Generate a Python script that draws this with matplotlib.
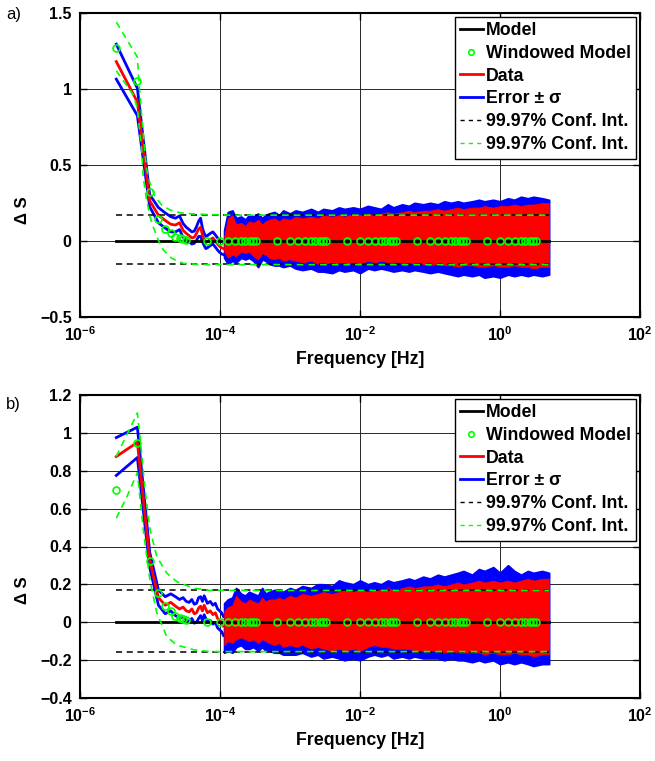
import numpy as np
import matplotlib
matplotlib.use('Agg')
import matplotlib.pyplot as plt
from matplotlib.lines import Line2D

plt.rcParams['font.family'] = ['Liberation Sans', 'DejaVu Sans']
plt.rcParams['font.weight'] = 'bold'
plt.rcParams['mathtext.fontset'] = 'custom'
plt.rcParams['mathtext.rm'] = 'Liberation Sans:bold'
plt.rcParams['mathtext.bf'] = 'Liberation Sans:bold'
plt.rcParams['mathtext.it'] = 'Liberation Sans:italic:bold'

# ---------------- data ----------------
F0 = 3.3e-6          # fundamental frequency [Hz]
F_END = 5.0          # last data frequency [Hz]

# low-frequency harmonics drawn as lines
harm = [1, 2, 3, 4, 5, 6, 7, 8, 9, 10, 11, 12, 13, 14, 15, 16, 17, 18, 19, 20,
        22, 24, 26, 28, 30, 32, 34]
data_a = [1.18, 0.915, 0.265, 0.17, 0.135, 0.11, 0.105, 0.12, 0.07, 0.05, 0.035,
          0.02, 0.025, 0.05, 0.08, 0.09, 0.04, 0.01, -0.01, -0.005, 0.01, 0.02,
          0.0, -0.02, -0.035, -0.045, -0.05]
sig_a = [0.115, 0.09, 0.04, 0.05, 0.05, 0.05, 0.045, 0.045, 0.045, 0.04, 0.04,
         0.04, 0.04, 0.045, 0.05, 0.06, 0.045, 0.04, 0.04, 0.04, 0.04, 0.04,
         0.04, 0.04, 0.04, 0.04, 0.04]
data_b = [0.875, 0.95, 0.33, 0.13, 0.09, 0.105, 0.085, 0.07, 0.08, 0.06, 0.055,
          0.07, 0.045, 0.05, 0.075, 0.085, 0.06, 0.09, 0.07, 0.05, 0.06, 0.04,
          0.05, 0.02, 0.01, 0.0, -0.02]
sig_b = [0.10, 0.08, 0.04, 0.04, 0.045, 0.045, 0.05, 0.05, 0.05, 0.05, 0.05,
         0.05, 0.05, 0.05, 0.055, 0.05, 0.05, 0.05, 0.05, 0.05, 0.05, 0.05,
         0.05, 0.05, 0.05, 0.05, 0.05]

# noise band envelopes
env_f = [1.15e-4, 1.3e-4, 1.5e-4, 1.7e-4, 2e-4, 2.3e-4, 2.6e-4, 3e-4, 3.5e-4,
         4e-4, 4.5e-4, 5e-4, 6e-4, 7e-4, 8e-4, 1e-3, 1.2e-3, 1.5e-3, 2e-3,
         2.5e-3, 3e-3, 4e-3, 5e-3, 6e-3, 8e-3, 1e-2, 1.3e-2, 1.6e-2, 2e-2,
         2.5e-2, 3e-2, 4e-2, 5e-2, 6e-2, 8e-2, 0.1, 0.13, 0.16, 0.2, 0.25, 0.3,
         0.4, 0.5, 0.6, 0.8, 1.0, 1.3, 1.6, 2.0, 2.5, 3.0, 4.0, 5.0]
red_hi_a = [0.03, 0.15, 0.17, 0.11, 0.12, 0.10, 0.13, 0.12, 0.14, 0.11, 0.13,
            0.14, 0.15, 0.13, 0.15, 0.14, 0.16, 0.15, 0.16, 0.15, 0.17, 0.16,
            0.17, 0.16, 0.18, 0.17, 0.18, 0.17, 0.18, 0.19, 0.18, 0.19, 0.20,
            0.19, 0.20, 0.20, 0.21, 0.20, 0.21, 0.22, 0.21, 0.22, 0.22, 0.23,
            0.22, 0.23, 0.23, 0.24, 0.23, 0.24, 0.24, 0.25, 0.25]
red_lo_a = [-0.07, -0.11, -0.09, -0.10, -0.07, -0.08, -0.07, -0.10, -0.12,
            -0.08, -0.09, -0.11, -0.12, -0.11, -0.13, -0.12, -0.13, -0.14,
            -0.13, -0.15, -0.14, -0.15, -0.14, -0.15, -0.14, -0.15, -0.13,
            -0.14, -0.13, -0.14, -0.14, -0.14, -0.15, -0.14, -0.15, -0.16,
            -0.15, -0.16, -0.16, -0.17, -0.16, -0.16, -0.17, -0.17, -0.16,
            -0.17, -0.17, -0.16, -0.17, -0.17, -0.18, -0.17, -0.17]
blue_hi_a = [0.07, 0.19, 0.20, 0.15, 0.16, 0.14, 0.17, 0.16, 0.18, 0.15, 0.17,
             0.18, 0.19, 0.17, 0.20, 0.18, 0.20, 0.19, 0.21, 0.19, 0.21, 0.20,
             0.22, 0.21, 0.22, 0.21, 0.23, 0.22, 0.21, 0.24, 0.22, 0.24, 0.23,
             0.25, 0.24, 0.25, 0.24, 0.26, 0.25, 0.26, 0.25, 0.26, 0.27, 0.26,
             0.27, 0.26, 0.28, 0.27, 0.29, 0.28, 0.29, 0.28, 0.27]
blue_lo_a = [-0.11, -0.15, -0.13, -0.14, -0.11, -0.12, -0.11, -0.13, -0.17,
             -0.12, -0.13, -0.15, -0.16, -0.16, -0.17, -0.16, -0.18, -0.19,
             -0.18, -0.20, -0.20, -0.21, -0.19, -0.20, -0.19, -0.21, -0.18,
             -0.19, -0.18, -0.19, -0.20, -0.19, -0.20, -0.19, -0.20, -0.21,
             -0.20, -0.21, -0.22, -0.23, -0.22, -0.23, -0.22, -0.24, -0.23,
             -0.24, -0.22, -0.23, -0.22, -0.23, -0.22, -0.23, -0.22]
red_hi_b = [0.06, 0.08, 0.09, 0.14, 0.11, 0.10, 0.12, 0.11, 0.10, 0.13, 0.11,
            0.12, 0.12, 0.13, 0.12, 0.14, 0.13, 0.15, 0.14, 0.15, 0.16, 0.15,
            0.16, 0.17, 0.16, 0.17, 0.16, 0.17, 0.17, 0.18, 0.17, 0.18, 0.19,
            0.18, 0.19, 0.19, 0.20, 0.19, 0.20, 0.21, 0.20, 0.21, 0.22, 0.21,
            0.22, 0.21, 0.22, 0.21, 0.22, 0.23, 0.22, 0.23, 0.23]
red_lo_b = [-0.12, -0.10, -0.11, -0.09, -0.08, -0.09, -0.10, -0.09, -0.11,
            -0.09, -0.10, -0.11, -0.12, -0.11, -0.13, -0.12, -0.13, -0.12,
            -0.14, -0.13, -0.14, -0.15, -0.14, -0.15, -0.14, -0.15, -0.13,
            -0.12, -0.13, -0.13, -0.14, -0.14, -0.14, -0.15, -0.15, -0.15,
            -0.15, -0.16, -0.15, -0.16, -0.16, -0.16, -0.16, -0.17, -0.16,
            -0.17, -0.17, -0.16, -0.17, -0.17, -0.18, -0.17, -0.17]
blue_hi_b = [0.10, 0.12, 0.13, 0.18, 0.15, 0.14, 0.16, 0.15, 0.14, 0.18, 0.15,
             0.16, 0.17, 0.17, 0.16, 0.18, 0.17, 0.19, 0.18, 0.20, 0.20, 0.19,
             0.22, 0.21, 0.20, 0.22, 0.20, 0.21, 0.20, 0.22, 0.21, 0.22, 0.23,
             0.22, 0.24, 0.23, 0.25, 0.24, 0.25, 0.26, 0.27, 0.25, 0.28, 0.27,
             0.29, 0.26, 0.30, 0.27, 0.25, 0.27, 0.26, 0.27, 0.26]
blue_lo_b = [-0.16, -0.15, -0.16, -0.13, -0.12, -0.14, -0.14, -0.13, -0.15,
             -0.13, -0.15, -0.15, -0.16, -0.16, -0.17, -0.17, -0.17, -0.16,
             -0.18, -0.17, -0.19, -0.18, -0.19, -0.20, -0.19, -0.20, -0.18,
             -0.17, -0.18, -0.17, -0.19, -0.18, -0.19, -0.18, -0.19, -0.19,
             -0.19, -0.20, -0.19, -0.20, -0.20, -0.21, -0.20, -0.21, -0.20,
             -0.22, -0.21, -0.22, -0.21, -0.22, -0.23, -0.22, -0.22]

# windowed model (nonzero values for harmonics 1..10, zero afterwards)
win_a = [1.27, 1.05, 0.32, 0.143, 0.079, 0.05, 0.028, 0.018, 0.011, 0.007]
win_b = [0.70, 0.945, 0.325, 0.154, 0.087, 0.057, 0.034, 0.022, 0.017, 0.01]
win_mult = [1, 2, 3, 4, 5, 6, 7, 8, 9]
win_decades = [0, 1, 2, 3, 4, 5]

# 99.97% confidence intervals
ci_black_a = [0.169, -0.153]
ci_black_b = [0.168, -0.157]
gu_f_a = [3.3e-6, 6.6e-6, 7.03e-6, 7.36e-6, 7.87e-6, 8.48e-6, 8.98e-6, 1e-5,
          1.18e-5, 1.47e-5, 1.93e-5, 2.68e-5, 4.16e-5, 7.2e-5, 1.4e-4, 5.0]
gu_v_a = [1.44, 1.21, 1.02, 0.90, 0.75, 0.58, 0.47, 0.38, 0.29, 0.237, 0.204,
          0.186, 0.178, 0.174, 0.17, 0.17]
gl_f_a = [3.3e-6, 5.8e-6, 6.6e-6, 7.6e-6, 8.0e-6, 8.8e-6, 1e-5, 1.11e-5,
          1.31e-5, 1.55e-5, 2.04e-5, 3.0e-5, 5.2e-5, 5.0]
gl_v_a = [1.12, 0.96, 0.87, 0.60, 0.42, 0.29, 0.16, 0.094, 0.007, -0.059,
          -0.114, -0.147, -0.155, -0.155]
gu_f_b = [3.3e-6, 6.6e-6, 7.2e-6, 8.5e-6, 1e-5, 1.25e-5, 1.73e-5, 2.4e-5,
          4.16e-5, 7.2e-5, 5.0]
gu_v_b = [0.875, 1.105, 0.98, 0.70, 0.49, 0.347, 0.26, 0.215, 0.18, 0.168, 0.168]
gl_f_b = [3.3e-6, 4.64e-6, 6.6e-6, 8.0e-6, 1e-5, 1.25e-5, 1.73e-5, 2.4e-5,
          4.16e-5, 7.2e-5, 5.0]
gl_v_b = [0.55, 0.66, 0.79, 0.49, 0.22, 0.05, -0.075, -0.12, -0.145, -0.155,
          -0.155]

# axes settings
xticks = [1e-6, 1e-4, 1e-2, 1e0, 1e2]
xticklabels = [r'$10^{-6}$', r'$10^{-4}$', r'$10^{-2}$', r'$10^{0}$', r'$10^{2}$']
yticks_a = [-0.5, 0, 0.5, 1, 1.5]
yticklabels_a = ['\u22120.5', '0', '0.5', '1', '1.5']
yticks_b = [-0.4, -0.2, 0, 0.2, 0.4, 0.6, 0.8, 1.0, 1.2]
yticklabels_b = ['\u22120.4', '\u22120.2', '0', '0.2', '0.4', '0.6', '0.8', '1', '1.2']

GREEN = '#00ff00'
RED = '#ff0000'
BLUE = '#0000ff'

W, H = 655, 761
fig = plt.figure(figsize=(W / 100, H / 100), dpi=100)
ax_a = fig.add_axes([80 / W, 1 - 317 / H, 560 / W, 304 / H])
ax_b = fig.add_axes([80 / W, 1 - 698 / H, 560 / W, 303 / H])


def draw(ax, data, sig, rhi, rlo, bhi, blo, win, ciblk, guf, guv, glf, glv,
         yticks, yticklabels, ylim, label_y):
    f = np.array(harm, float) * F0
    d = np.array(data)
    s = np.array(sig)
    ef = np.array(env_f)
    # error band
    ax.plot(f, d + s, color=BLUE, lw=2.0, zorder=2)
    ax.plot(f, d - s, color=BLUE, lw=2.0, zorder=2)
    ax.fill_between(ef, blo, bhi, color=BLUE, lw=1.5, edgecolor=BLUE, zorder=2)
    # data
    ax.plot(f, d, color=RED, lw=2.0, zorder=3)
    ax.fill_between(ef, rlo, rhi, color=RED, lw=0.5, edgecolor=RED, zorder=3)
    # model
    ax.plot([F0, F_END], [0, 0], color='k', lw=2.0, zorder=4)
    # confidence intervals
    dash = (4, 3)
    ax.plot([F0, F_END], [ciblk[0], ciblk[0]], color='k', lw=1.1,
            dashes=dash, zorder=5)
    ax.plot([F0, F_END], [ciblk[1], ciblk[1]], color='k', lw=1.1,
            dashes=dash, zorder=5)
    ax.plot(guf, guv, color=GREEN, lw=1.2, dashes=dash, zorder=5)
    ax.plot(glf, glv, color=GREEN, lw=1.2, dashes=dash, zorder=5)
    # windowed model
    wn, wv = [], []
    for m in win_decades:
        for k in win_mult:
            n = k * 10 ** m
            wn.append(n)
            wv.append(win[n - 1] if n <= len(win) else 0.0)
    wn.append(10 ** (win_decades[-1] + 1))
    wv.append(0.0)
    ax.plot(np.array(wn, float) * F0, wv, 'o', mfc='none', mec=GREEN, ms=5,
            mew=1.2, zorder=6)

    ax.set_xscale('log')
    ax.set_xlim(1e-6, 1e2)
    ax.set_ylim(*ylim)
    ax.set_xticks(xticks)
    ax.set_xticklabels(xticklabels)
    ax.xaxis.set_minor_locator(matplotlib.ticker.NullLocator())
    ax.set_yticks(yticks)
    ax.set_yticklabels(yticklabels)
    ax.tick_params(direction='in', length=5, width=1, labelsize=11.5,
                   top=True, right=True)
    ax.tick_params(axis='x', pad=6)
    ax.tick_params(axis='y', pad=6)
    for t in ax.get_xticklabels() + ax.get_yticklabels():
        t.set_fontweight('bold')
    ax.grid(True, color='0.15', lw=0.7)
    ax.set_axisbelow(True)
    for sp in ax.spines.values():
        sp.set_linewidth(1.5)
    ax.set_xlabel('Frequency [Hz]', fontsize=12.8, fontweight='bold', labelpad=5)
    ax.set_ylabel('\u0394 S', fontsize=12, fontweight='bold')
    ax.yaxis.set_label_coords(-0.089, label_y)

    handles = [
        Line2D([], [], color='k', lw=2),
        Line2D([], [], ls='none', marker='o', mfc='none', mec=GREEN, ms=4, mew=1.2),
        Line2D([], [], color=RED, lw=2),
        Line2D([], [], color=BLUE, lw=2),
        Line2D([], [], color='k', lw=1, dashes=(3, 3)),
        Line2D([], [], color=GREEN, lw=1, dashes=(3, 3)),
    ]
    labels = ['Model', 'Windowed Model', 'Data', 'Error \u00b1 \u03c3',
              '99.97% Conf. Int.', '99.97% Conf. Int.']
    leg = ax.legend(handles, labels, loc='upper right', fancybox=False,
                    framealpha=1, edgecolor='k', borderpad=0.3,
                    handlelength=1.25, handletextpad=0.2, labelspacing=0.33,
                    borderaxespad=0.2,
                    prop={'family': ['Liberation Sans', 'DejaVu Sans'],
                          'weight': 'bold', 'size': 12.8})
    leg.get_frame().set_linewidth(1.0)
    leg.set_zorder(10)


draw(ax_a, data_a, sig_a, red_hi_a, red_lo_a, blue_hi_a, blue_lo_a, win_a,
     ci_black_a, gu_f_a, gu_v_a, gl_f_a, gl_v_a, yticks_a, yticklabels_a,
     (-0.5, 1.5), 0.35)
draw(ax_b, data_b, sig_b, red_hi_b, red_lo_b, blue_hi_b, blue_lo_b, win_b,
     ci_black_b, gu_f_b, gu_v_b, gl_f_b, gl_v_b, yticks_b, yticklabels_b,
     (-0.4, 1.2), 0.356)

fig.text(6 / W, 1 - 14 / H, 'a)', fontsize=12, fontweight='normal',
         ha='left', va='center')
fig.text(6 / W, 1 - 405 / H, 'b)', fontsize=12, fontweight='normal',
         ha='left', va='center')

fig.savefig('out.png', dpi=100)
